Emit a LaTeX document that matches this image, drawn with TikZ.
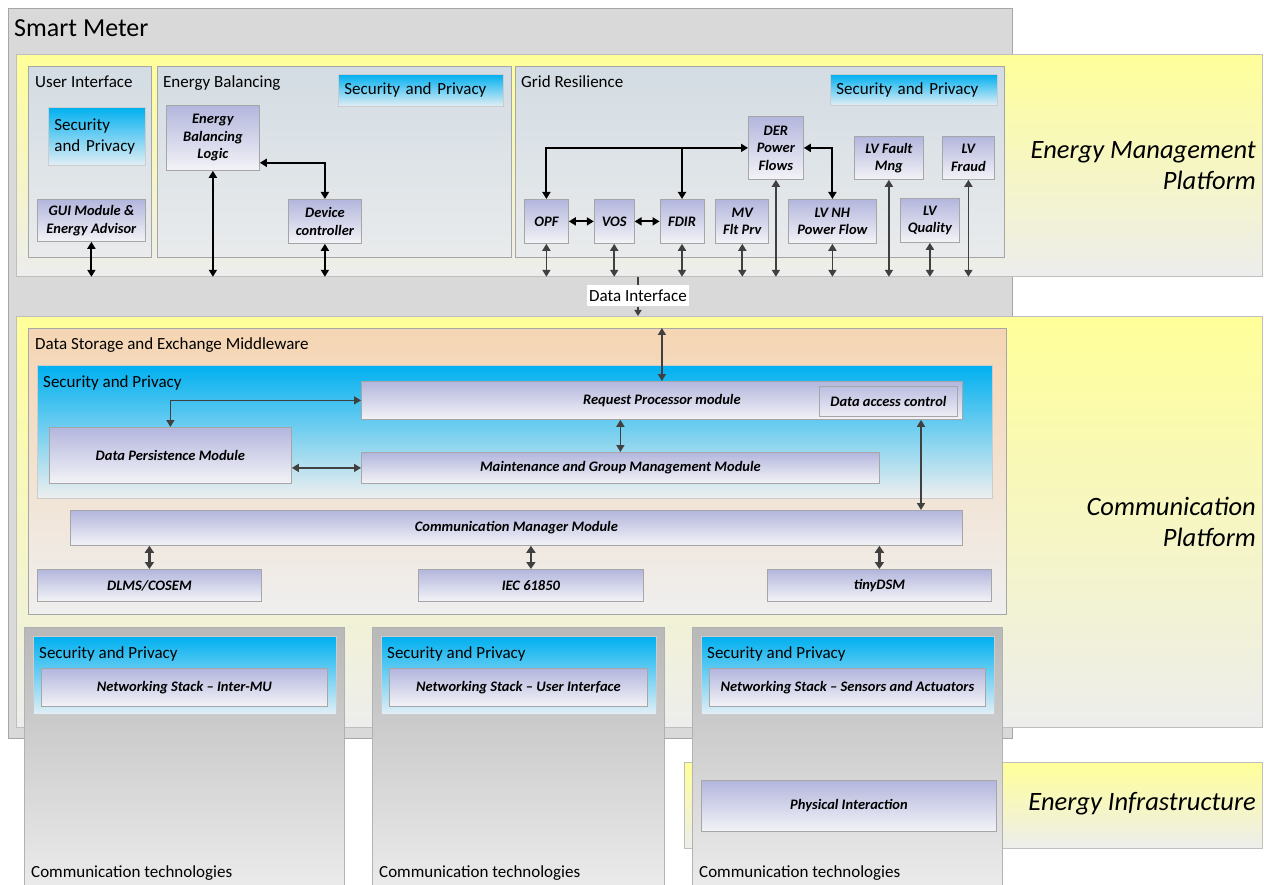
\documentclass[tikz,border=0pt]{standalone}
\usepackage{fontspec}
\setmainfont{Carlito}
\usepackage{tikz}
\usetikzlibrary{arrows.meta,positioning,calc}

\definecolor{smgray}{HTML}{D9D9D9}
\definecolor{edgegray}{HTML}{A6A6A6}
\definecolor{bandyellow}{HTML}{FFFF99}
\definecolor{bandgray}{HTML}{EDEDED}
\definecolor{paneltop}{HTML}{D3DCE3}
\definecolor{panelbot}{HTML}{E9EBEC}
\definecolor{sptop}{HTML}{00B0F0}
\definecolor{spbot}{HTML}{E3EFF5}
\definecolor{modtop}{HTML}{B3B6DD}
\definecolor{modbot}{HTML}{F3F3F7}
\definecolor{mwtop}{HTML}{F5D5B3}
\definecolor{mwbot}{HTML}{EFEFEF}
\definecolor{coltop}{HTML}{B8B8B8}
\definecolor{colbot}{HTML}{EDEDED}
\definecolor{arrgray}{HTML}{404040}

\begin{document}
\begin{tikzpicture}[x=1pt, y=-1pt, >={Triangle[length=7pt,width=8pt]},
    box/.style={anchor=north west, inner sep=0pt, draw=edgegray, line width=0.8pt},
    wh/.style 2 args={minimum width=#1pt, minimum height=#2pt},
    smbox/.style={fill=smgray},
    band/.style={top color=bandyellow, bottom color=bandgray, draw=gray!50},
    panel/.style={top color=paneltop, bottom color=panelbot},
    secpriv/.style={top color=sptop, bottom color=spbot, draw=gray!40},
    module/.style={top color=modtop, bottom color=modbot, align=center,
        font=\fontsize{14.5}{17.5}\selectfont\bfseries\itshape},
    column/.style={top color=coltop, bottom color=colbot, draw=gray!60},
    lbl/.style={anchor=base west, inner sep=0pt, font=\fontsize{17}{21}\selectfont},
    splbl/.style={box, secpriv, align=left, inner xsep=6pt, font=\fontsize{17}{21}\selectfont},
    plat/.style={anchor=east, align=right, inner sep=0pt, font=\fontsize{26.5}{31}\selectfont\itshape},
    blk/.style={<->, line width=2pt, black},
    gry/.style={<->, >={Triangle[length=7pt,width=8pt]}, line width=1.5pt, arrgray}]
    \useasboundingbox (0,0) rectangle (1264,885);

    % smart meter and platforms
    \node[box, smbox, wh={1004}{730}] (sm) at (8,8) {};
    \node[lbl, font=\fontsize{26}{30}\selectfont] (smt) at (14,37) {Smart Meter};
    \node[box, band, wh={1246}{222}] (emp) at (16,54) {};
    \node[box, band, wh={1246}{411}] (comm) at (16,316) {};
    \node[box, band, wh={578}{86}] (einf) at (684,762) {};
    \node[plat] (empt) at (1256,166) {Energy Management\\Platform};
    \node[plat] (commt) at (1256,522) {Communication\\Platform};
    \node[plat] (einft) at (1256,804) {Energy Infrastructure};

    % energy management platform
    \node[box, panel, wh={123}{191}] (ui) at (28,66) {};
    \node[box, panel, wh={354}{191}] (eb) at (157,66) {};
    \node[box, panel, wh={489}{191}] (gr) at (515,66) {};
    \node[lbl] (uit) at (35,88) {User Interface};
    \node[lbl] (ebt) at (163,88) {Energy Balancing};
    \node[lbl] (grt) at (521,88) {Grid Resilience};
    \node[splbl, text width=85pt, minimum height=58pt] (uisp) at (48,107) {Security\\and Privacy};
    \node[splbl, text width=153pt, minimum height=32pt] (ebsp) at (338,74) {Security and Privacy};
    \node[splbl, text width=155pt, minimum height=31pt] (grsp) at (830,74) {Security and Privacy};

    \node[box, module, wh={108}{42}] (gui) at (37,199) {GUI Module \&\\Energy Advisor};
    \node[box, module, wh={93}{65}] (ebl) at (166,105) {Energy\\Balancing\\Logic};
    \node[box, module, wh={73}{44}] (dc) at (288,199) {Device\\controller};

    \node[box, module, wh={44}{44}] (opf) at (524,199) {OPF};
    \node[box, module, wh={40}{44}, right=25pt of opf] (vos) {VOS};
    \node[box, module, wh={44}{44}, right=25pt of vos] (fdir) {FDIR};
    \node[box, module, wh={53}{44}, right=11pt of fdir] (mv) {MV\\Flt Prv};
    \node[box, module, wh={55}{63}] (der) at (748,116) {DER\\Power\\Flows};
    \node[box, module, wh={88}{44}] (lvnh) at (788,199) {LV NH\\Power Flow};
    \node[box, module, wh={69}{43}] (lvf) at (854,136) {LV Fault\\Mng};
    \node[box, module, wh={59}{44}] (lvq) at (900,198) {LV\\Quality};
    \node[box, module, wh={52}{43}] (lvfr) at (942,136) {LV\\Fraud};

    \draw[blk] (gui.south) -- (gui.south |- emp.south);
    \draw[blk] (ebl.south) -- (ebl.south |- emp.south);
    \draw[blk] (dc.south) -- (dc.south |- emp.south);
    \draw[blk] ([yshift=8pt]ebl.south east) -| (dc.north);
    \draw[blk] (opf.north) |- (der.west);
    \draw[blk, <-] (fdir.north) -- (fdir.north |- der.west);
    \draw[blk] (der.east) -| (lvnh.north);
    \draw[blk] (opf) -- (vos);
    \draw[blk] (vos) -- (fdir);
    \foreach \m in {opf,vos,fdir,mv,der,lvnh,lvf,lvq,lvfr}
        \draw[gry, line width=1.8pt] (\m.south) -- (\m.south |- emp.south);

    % data interface
    \node[fill=white, inner xsep=2.5pt, inner ysep=0pt, minimum height=21pt,
        font=\fontsize{17}{21}\selectfont] (di) at (638,296) {Data Interface};
    \draw[arrgray, line width=1.2pt] (di.north |- emp.south) -- (di.north);
    \draw[arrgray, line width=1.2pt, -{Triangle[length=6pt,width=7pt]}] (di.south) -- (di.south |- comm.north);

    % middleware
    \node[box, top color=mwtop, bottom color=mwbot, wh={978}{286}] (mw) at (28,328) {};
    \node[lbl] (mwt) at (35,350) {Data Storage and Exchange Middleware};
    \node[box, secpriv, top color=sptop, bottom color=mwbot, wh={955}{133}] (mwsp) at (37,365) {};
    \node[lbl] (mwspt) at (43,387) {Security and Privacy};
    \node[box, module, wh={601}{38}] (rpm) at (361,381) {Request Processor module};
    \node[box, module, wh={138}{30}, shade=none, fill=none] (dac) at (819,386) {Data access control};
    \node[box, module, wh={242}{56}] (dpm) at (49,427) {Data Persistence Module};
    \node[box, module, wh={518}{31}] (mgm) at (361,452) {Maintenance and Group Management Module};
    \node[box, module, wh={892}{35}] (cmm) at (70,510) {Communication Manager Module};
    \node[box, module, wh={224}{32}] (dlms) at (37,569) {DLMS/COSEM};
    \node[box, module, wh={225}{32}] (iec) at (418,569) {IEC 61850};
    \node[box, module, wh={224}{32}] (tdsm) at (767,569) {tinyDSM};

    \draw[gry] (rpm.north) -- (rpm.north |- mw.north);
    \draw[gry] (dpm.north) |- (rpm.west);
    \draw[gry] (dpm.east |- mgm.west) -- (mgm.west);
    \draw[gry] (mgm.north |- rpm.south) -- (mgm.north);
    \draw[gry] (rpm.south -| 921,0) -- (cmm.north -| 921,0);
    \foreach \m in {dlms,iec,tdsm}
        \draw[gry, line width=2.5pt, >={Triangle[length=7pt,width=9pt]}] (\m.north) -- (\m.north |- cmm.south);

    % communication technologies
    \foreach \i/\x/\w/\ns in {1/24/320/Inter-MU, 2/372/292/User Interface,
                             3/692/310/Sensors and Actuators} {
        \node[box, column, minimum width=\w pt, minimum height=270pt] (col\i) at (\x,627) {};
        \node[box, secpriv, minimum width=\w pt-17pt, minimum height=78pt] (colsp\i)
            at ($(col\i.north west)+(9,9)$) {};
        \node[lbl] (colspt\i) at ($(colsp\i.north west)+(6,22)$) {Security and Privacy};
        \node[box, module, minimum width=\w pt-34pt, minimum height=38pt] (ns\i)
            at ($(col\i.north west)+(17,41)$) {Networking Stack -- \ns};
        \node[lbl] (ctt\i) at ($(col\i.north west)+(7,250)$) {Communication technologies};
    }
    \node[box, module, wh={295}{51}] (phys) at (701,780) {Physical Interaction};
\end{tikzpicture}
\end{document}
